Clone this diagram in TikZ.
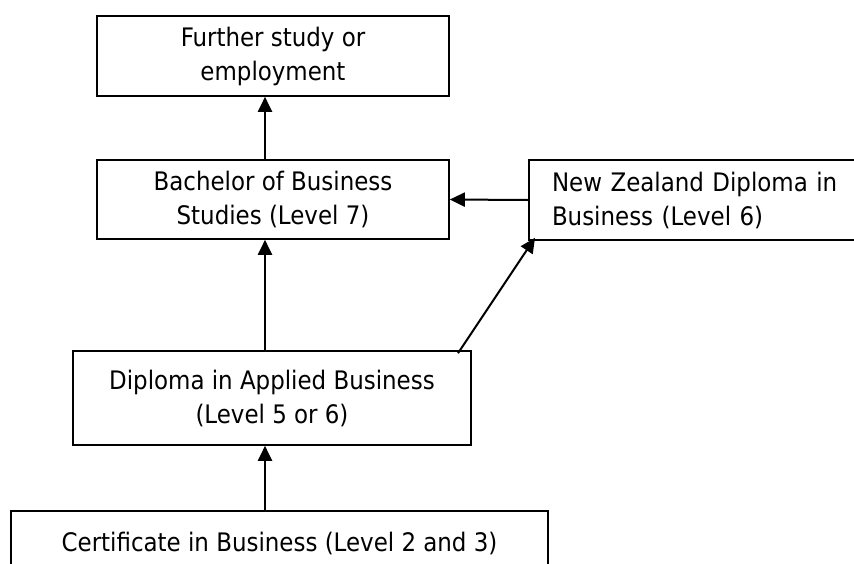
\documentclass[tikz,border=0pt]{standalone}
\usepackage{fontspec}
\setmainfont{DejaVu Sans Condensed}
\usetikzlibrary{arrows.meta}
\begin{document}
\begin{tikzpicture}[x=1pt,y=-1pt,
  box/.style={draw=black,line width=1.6pt,inner sep=0pt,align=center,
    font=\fontsize{25.5}{34}\selectfont},
  arr/.style={line width=2pt,-{Triangle[length=15pt,width=14pt]}}]
\useasboundingbox (0,0) rectangle (854,563);
\clip (0,0) rectangle (854,563);
\node[box,minimum width=352pt,minimum height=80pt] (further) at (273,56) {Further study or\\employment};
\node[box,minimum width=352pt,minimum height=79pt] (bach) at (273,199.5) {Bachelor of Business\\Studies (Level 7)};
\node[box,minimum width=351pt,minimum height=80pt,align=left,text width=305pt,inner xsep=23pt] (nz) at (704.5,200) {New Zealand Diploma in\\Business (Level 6)};
\node[box,minimum width=398pt,minimum height=94pt] (dip) at (272,398) {Diploma in Applied Business\\(Level 5 or 6)};
\node[box,minimum width=537pt,minimum height=64pt] (cert) at (279.5,543) {Certificate in Business (Level 2 and 3)};
\coordinate (col) at (265,0);
\coordinate (diagstart) at (458,0);
\coordinate (diagend) at (535,0);
\draw[arr] (bach.north -| col) -- (further.south -| col);
\draw[arr] (dip.north -| col) -- (bach.south -| col);
\draw[arr] (cert.north -| col) -- (dip.south -| col);
\draw[arr] (nz.west) -- (bach.east);
\draw[arr] ([yshift=-3pt]dip.north -| diagstart) -- ([yshift=3pt]nz.south -| diagend);
\end{tikzpicture}
\end{document}
